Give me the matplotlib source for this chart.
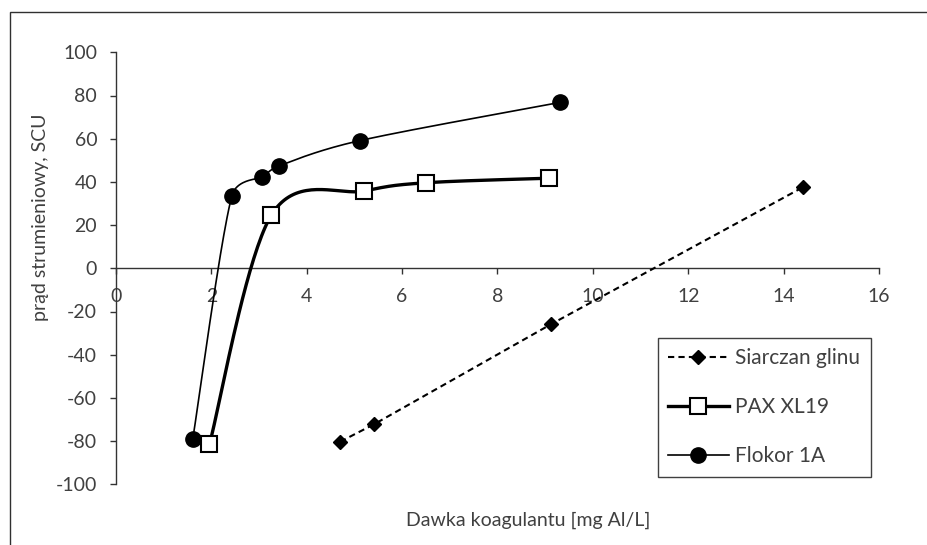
import numpy as np
import matplotlib
matplotlib.use("Agg")
import matplotlib.pyplot as plt
from matplotlib.patches import Rectangle

# ---- data ----
siarczan_x = [4.70, 5.42, 9.13, 14.41]
siarczan_y = [-80.3, -72.1, -25.8, 37.6]

pax_x = [1.96, 3.26, 5.21, 6.50, 9.07]
pax_y = [-81.5, 24.7, 35.8, 39.6, 41.7]

flokor_x = [1.61, 2.43, 3.06, 3.42, 5.11, 9.31]
flokor_y = [-79.0, 33.6, 42.1, 47.4, 59.1, 76.8]

labels = ["Siarczan glinu", "PAX XL19", "Flokor 1A"]
xticks = [0, 2, 4, 6, 8, 10, 12, 14, 16]
yticks = [-100, -80, -60, -40, -20, 0, 20, 40, 60, 80, 100]

W, H = 928, 545
left_px, right_px, top_px, bottom_px = 116, 879, 52.3, 484.3
XMIN, XMAX, YMIN, YMAX = 0, 16, -100, 100
SX = (right_px - left_px) / (XMAX - XMIN)
SY = (bottom_px - top_px) / (YMAX - YMIN)


def smooth(x, y, n=40):
    """Excel-like smoothed line (Bezier with limited control arms, in screen space)."""
    p = np.column_stack([np.asarray(x) * SX, np.asarray(y) * SY]).astype(float)
    out = []
    m = len(p)
    t = np.linspace(0, 1, n)[:, None]
    for i in range(m - 1):
        p0 = p[i - 1] if i > 0 else p[i]
        p1, p2 = p[i], p[i + 1]
        p3 = p[i + 2] if i + 2 < m else p[i + 1]
        d02 = np.linalg.norm(p2 - p0)
        d12 = np.linalg.norm(p2 - p1)
        d13 = np.linalg.norm(p3 - p1)
        if d02 / 6 < d12 / 2 and d13 / 6 < d12 / 2:
            f0, f3 = 1 / 6, 1 / 6
        elif d02 / 6 >= d12 / 2 and d13 / 6 >= d12 / 2:
            f0, f3 = d12 / 2 / d02, d12 / 2 / d13
        elif d02 / 6 >= d12 / 2:
            f0 = d12 / 2 / d02
            f3 = d12 / 2 / d02
        else:
            f0 = d12 / 2 / d13
            f3 = d12 / 2 / d13
        c1 = p1 + (p2 - p0) * f0
        c2 = p2 - (p3 - p1) * f3
        seg = ((1 - t) ** 3) * p1 + 3 * ((1 - t) ** 2) * t * c1 + 3 * (1 - t) * t ** 2 * c2 + t ** 3 * p2
        out.append(seg if i == 0 else seg[1:])
    s = np.vstack(out)
    return s[:, 0] / SX, s[:, 1] / SY


plt.rcParams['font.family'] = ['Lato', 'DejaVu Sans']
plt.rcParams['axes.unicode_minus'] = False
fig = plt.figure(figsize=(W / 100, H / 100), dpi=100)
txt = '#404040'

# outer chart border
fig.patches.append(Rectangle((10 / W, -0.1), 1.2, (H - 12) / H + 0.1, transform=fig.transFigure,
                             fill=False, edgecolor='#303030', linewidth=1.0))

ax = fig.add_axes([left_px / W, 1 - bottom_px / H, (right_px - left_px) / W, (bottom_px - top_px) / H])
ax.set_xlim(XMIN, XMAX)
ax.set_ylim(YMIN, YMAX)

# series
ax.plot(siarczan_x, siarczan_y, color='black', linestyle=(0, (3, 2)), linewidth=1.5,
        marker='D', markersize=7, label=labels[0], clip_on=False, zorder=3)

sx, sy = smooth(pax_x, pax_y)
ax.plot(sx, sy, color='black', linewidth=2.4, zorder=3, clip_on=False)
ax.plot(pax_x, pax_y, linestyle='none', marker='s', markersize=11, markerfacecolor='white',
        markeredgecolor='black', markeredgewidth=1.5, zorder=4, clip_on=False)

fx, fy = smooth(flokor_x, flokor_y)
ax.plot(fx, fy, color='black', linewidth=1.2, zorder=3, clip_on=False)
ax.plot(flokor_x, flokor_y, linestyle='none', marker='o', markersize=11, color='black',
        zorder=4, clip_on=False)

# axes styling
for s in ['top', 'right']:
    ax.spines[s].set_visible(False)
ax.spines['bottom'].set_position(('data', 0))
for s in ['bottom', 'left']:
    ax.spines[s].set_color('#333333')
    ax.spines[s].set_linewidth(1.0)

ax.set_xticks(xticks)
ax.set_yticks(yticks)
ax.tick_params(axis='x', direction='out', length=4, width=1, color='#333333',
               labelsize=14, labelcolor=txt, pad=10)
ax.tick_params(axis='y', direction='out', length=4.5, width=1, color='#333333',
               labelsize=14, labelcolor=txt, pad=9)

fig.text(528 / W, 1 - 520 / H, 'Dawka koagulantu [mg Al/L]', ha='center', va='center',
         fontsize=14, color=txt)
fig.text(41 / W, 1 - 217 / H, 'prąd strumieniowy, SCU', ha='center', va='center',
         rotation=90, fontsize=14, color=txt)

# legend handles
h1 = plt.Line2D([], [], color='black', linestyle=(0, (3, 2)), linewidth=1.5, marker='D', markersize=7)
h2 = plt.Line2D([], [], color='black', linewidth=2.4, marker='s', markersize=11,
                markerfacecolor='white', markeredgecolor='black', markeredgewidth=1.5)
h3 = plt.Line2D([], [], color='black', linewidth=1.2, marker='o', markersize=11)
leg = fig.legend([h1, h2, h3], labels, loc='upper left',
                 bbox_to_anchor=(657.7 / W, 1 - 337.7 / H), bbox_transform=fig.transFigure,
                 frameon=True, fancybox=False, edgecolor='#404040', framealpha=1,
                 fontsize=15, labelspacing=1.4, handlelength=2.9, handletextpad=0.33,
                 borderpad=0.5, borderaxespad=0)
leg.get_frame().set_linewidth(1.0)
for t in leg.get_texts():
    t.set_color(txt)

fig.savefig('out.png', dpi=100)
